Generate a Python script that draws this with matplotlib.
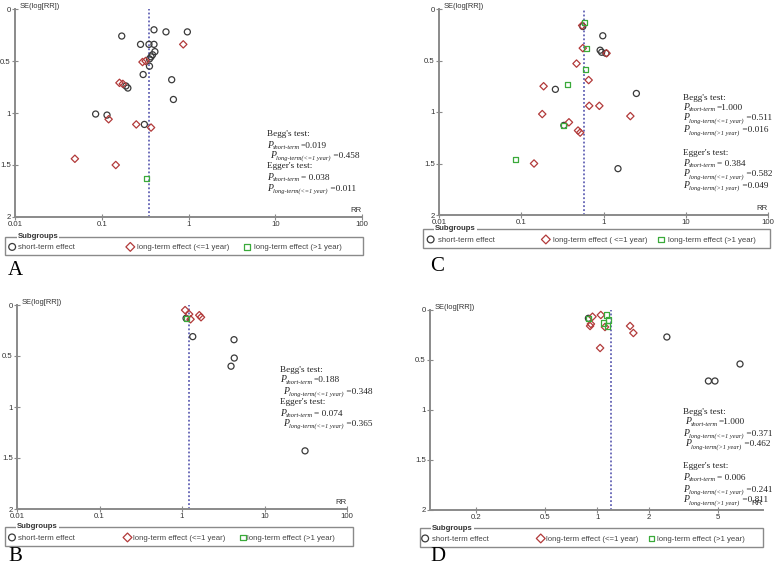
import numpy as np
import matplotlib
matplotlib.use('Agg')
import matplotlib.pyplot as plt
from matplotlib.patches import Rectangle

plt.rcParams['font.family'] = ['Liberation Sans', 'DejaVu Sans']

W, H = 778, 567

# ---------------- data ----------------
# Panel A
a_short_rr = [0.40, 0.55, 0.97, 0.17, 0.28, 0.35, 0.40, 0.41, 0.385, 0.37, 0.355, 0.355,
              0.30, 0.64, 0.19, 0.20, 0.67, 0.085, 0.115, 0.31]
a_short_se = [0.20, 0.22, 0.22, 0.26, 0.34, 0.34, 0.34, 0.41, 0.44, 0.46, 0.48, 0.55,
              0.63, 0.68, 0.74, 0.76, 0.87, 1.01, 1.02, 1.11]
a_le1_rr = [0.87, 0.32, 0.295, 0.16, 0.175, 0.12, 0.25, 0.37, 0.049, 0.145]
a_le1_se = [0.34, 0.50, 0.51, 0.71, 0.72, 1.06, 1.11, 1.14, 1.44, 1.50]
a_gt1_rr = [0.33]
a_gt1_se = [1.63]
a_pooled = 0.35

# Panel C
c_short_rr = [0.56, 0.98, 0.91, 0.95, 1.07, 0.26, 2.51, 0.33, 1.50]
c_short_se = [0.17, 0.26, 0.40, 0.42, 0.43, 0.78, 0.82, 1.13, 1.55]
c_le1_rr = [0.55, 0.56, 1.09, 0.47, 0.66, 0.187, 0.67, 0.89, 0.18, 2.12, 0.38, 0.49, 0.52, 0.143]
c_le1_se = [0.16, 0.38, 0.43, 0.53, 0.69, 0.75, 0.94, 0.94, 1.02, 1.04, 1.10, 1.18, 1.20, 1.50]
c_gt1_rr = [0.58, 0.62, 0.61, 0.363, 0.33, 0.086]
c_gt1_se = [0.13, 0.38, 0.59, 0.73, 1.13, 1.46]
c_pooled = 0.58

# Panel B
b_short_rr = [1.12, 1.35, 4.27, 4.3, 3.93, 31.0]
b_short_se = [0.13, 0.31, 0.34, 0.52, 0.60, 1.43]
b_le1_rr = [1.09, 1.22, 1.27, 1.62, 1.70]
b_le1_se = [0.05, 0.09, 0.14, 0.10, 0.12]
b_gt1_rr = [1.12]
b_gt1_se = [0.13]
b_pooled = 1.22

# Panel D
d_short_rr = [0.89, 2.53, 6.7, 4.4, 4.8]
d_short_se = [0.083, 0.27, 0.54, 0.71, 0.71]
d_le1_rr = [0.94, 0.92, 0.91, 1.05, 1.11, 1.55, 1.62, 1.04]
d_le1_se = [0.067, 0.14, 0.16, 0.05, 0.17, 0.16, 0.23, 0.38]
d_gt1_rr = [0.89, 1.14, 1.16, 1.09, 1.15]
d_gt1_se = [0.083, 0.05, 0.10, 0.13, 0.16]
d_pooled = 1.2

abc_xticks = [0.01, 0.1, 1, 10, 100]
abc_xticklabels = ['0.01', '0.1', '1', '10', '100']
d_xticks = [0.2, 0.5, 1, 2, 5]
d_xticklabels = ['0.2', '0.5', '1', '2', '5']
yticks = [0, 0.5, 1, 1.5, 2]
yticklabels = ['0', '0.5', '1', '1.5', '2']

series_labels = ['short-term effect', 'long-term effect (<=1 year)', 'long-term effect (>1 year)']
series_labels_c = ['short-term effect', 'long-term effect ( <=1 year)', 'long-term effect (>1 year)']

C_CIRC = '#3a3a3a'
C_DIAM = '#b23a3a'
C_SQ = '#3aaa3a'
SPINE = '#8a8a8a'
DASH = '#4848a8'

fig = plt.figure(figsize=(W / 100, H / 100), dpi=100)
renderer = fig.canvas.get_renderer()


def px_axes(x0, y0, x1, y1):
    return fig.add_axes([x0 / W, 1 - y1 / H, (x1 - x0) / W, (y1 - y0) / H])


def panel(box, short, le1, gt1, pooled, xlim, xt, xtl):
    ax = px_axes(*box)
    ax.set_xscale('log')
    ax.scatter(short[0], short[1], marker='o', s=19, facecolors='none',
               edgecolors=C_CIRC, linewidths=0.9, clip_on=False, zorder=3)
    ax.scatter(le1[0], le1[1], marker='D', s=14, facecolors='none',
               edgecolors=C_DIAM, linewidths=0.9, clip_on=False, zorder=3)
    ax.scatter(gt1[0], gt1[1], marker='s', s=13, facecolors='none',
               edgecolors=C_SQ, linewidths=0.9, clip_on=False, zorder=3)
    ax.axvline(pooled, color=DASH, ls=(0, (1.2, 1.4)), lw=1.1, zorder=2)
    ax.set_xlim(*xlim)
    ax.set_ylim(2, 0)
    ax.set_xticks(xt)
    ax.set_xticklabels(xtl)
    ax.minorticks_off()
    ax.set_yticks(yticks)
    ax.set_yticklabels(yticklabels)
    for s in ['top', 'right']:
        ax.spines[s].set_visible(False)
    for s in ['left', 'bottom']:
        ax.spines[s].set_color(SPINE)
        ax.spines[s].set_linewidth(1.4)
    ax.tick_params(direction='inout', length=4, width=0.8, color=SPINE,
                   labelsize=5.6, labelcolor='#333333', pad=1)
    ax.patch.set_alpha(0)
    ax.annotate('SE(log[RR])', xy=(0, 1), xycoords='axes fraction', xytext=(3, 2),
                textcoords='offset points', ha='left', va='center', fontsize=5.4, color='#333333')
    ax.annotate('RR', xy=(1, 0), xycoords='axes fraction', xytext=(-4, 4.5),
                textcoords='offset points', ha='center', va='center', fontsize=5.6, color='#333333')
    return ax


def legend_box(box, labels, pos):
    lax = px_axes(*box)
    lax.set_xlim(0, 1)
    lax.set_ylim(0, 1)
    lax.axis('off')
    lax.add_patch(Rectangle((0, 0), 1, 1, transform=lax.transAxes, fill=False,
                            ec=SPINE, lw=1.0, clip_on=False))
    lax.text(0.035, 1.0, 'Subgroups', ha='left', va='center', fontsize=5.6, fontweight='bold',
             color='#333333', bbox=dict(fc='white', ec='none', pad=0.6))
    mk = [('o', C_CIRC, 24), ('D', C_DIAM, 20), ('s', C_SQ, 18)]
    for (m, c, s), (mx, tx), lab in zip(mk, pos, labels):
        lax.scatter([mx], [0.45], marker=m, s=s, facecolors='none', edgecolors=c,
                    linewidths=0.9, clip_on=False)
        lax.text(tx, 0.42, lab, ha='left', va='center', fontsize=5.6, color='#444444')


SERIF = 'Liberation Serif'
TCOL = '#222222'


def ptext(x, y, sub, val):
    yb = 1 - (y + 2.5) / H
    t1 = fig.text(x / W, yb, 'P', style='italic', fontsize=7.0, family=SERIF,
                  va='baseline', ha='left', color=TCOL)
    bb = t1.get_window_extent(renderer)
    t2 = fig.text((bb.x1 + 0.3) / W, yb - 1.8 / H, sub, style='italic', fontsize=4.6,
                  family=SERIF, va='baseline', ha='left', color=TCOL)
    bb2 = t2.get_window_extent(renderer)
    fig.text((bb2.x1 + 0.3) / W, yb, val, fontsize=6.7, family=SERIF,
             va='baseline', ha='left', color=TCOL)


def stats(x, lines):
    for item in lines:
        if len(item) == 3:
            dx, y, s = item
            fig.text((x + dx) / W, 1 - (y + 2.5) / H, s, ha='left', va='baseline',
                     fontsize=6.7, family=SERIF, color=TCOL)
        else:
            dx, y, sub, val = item
            ptext(x + dx, y, sub, val)


SHORT = 'short-term'
LE1 = 'long-term(<=1 year)'
GT1 = 'long-term(>1 year)'


def plabel(x, y, s):
    fig.text(x / W, 1 - y / H, s, fontsize=15, family=SERIF, va='bottom', ha='left')


# Panel A
panel((15, 9, 362, 217), (a_short_rr, a_short_se), (a_le1_rr, a_le1_se),
      (a_gt1_rr, a_gt1_se), a_pooled, (0.01, 100), abc_xticks, abc_xticklabels)
legend_box((5, 237, 363, 255), series_labels, [(0.02, 0.037), (0.35, 0.368), (0.676, 0.695)])
stats(267, [(0, 133, "Begg's test:"), (0, 145, SHORT, '=0.019'), (3, 155, LE1, ' =0.458'),
            (0, 166, "Egger's test:"), (0, 177, SHORT, '= 0.038'), (0, 188, LE1, ' =0.011')])
plabel(8, 280, 'A')

# Panel C
panel((439, 9, 768, 215), (c_short_rr, c_short_se), (c_le1_rr, c_le1_se),
      (c_gt1_rr, c_gt1_se), c_pooled, (0.01, 100), abc_xticks, abc_xticklabels)
legend_box((423, 229, 770, 248), series_labels_c, [(0.022, 0.043), (0.354, 0.374), (0.686, 0.706)])
stats(683, [(0, 97, "Begg's test:"), (0, 107, SHORT, '=1.000'), (0, 118, LE1, ' =0.511'),
            (0, 130, GT1, ' =0.016'), (0, 152, "Egger's test:"), (0, 163, SHORT, '= 0.384'),
            (0, 174, LE1, ' =0.582'), (0, 185, GT1, ' =0.049')])
plabel(430, 276, 'C')

# Panel B
panel((17, 305, 347, 509), (b_short_rr, b_short_se), (b_le1_rr, b_le1_se),
      (b_gt1_rr, b_gt1_se), b_pooled, (0.01, 100), abc_xticks, abc_xticklabels)
legend_box((5, 527, 353, 546), series_labels, [(0.02, 0.038), (0.352, 0.368), (0.683, 0.695)])
stats(280, [(0, 369, "Begg's test:"), (0, 380, SHORT, '=0.188'), (3, 391, LE1, ' =0.348'),
            (0, 402, "Egger's test:"), (0, 413, SHORT, '= 0.074'), (3, 423, LE1, ' =0.365')])
plabel(8, 566, 'B')

# Panel D
panel((430, 310, 763, 510), (d_short_rr, d_short_se), (d_le1_rr, d_le1_se),
      (d_gt1_rr, d_gt1_se), d_pooled, (0.108, 9.1), d_xticks, d_xticklabels)
legend_box((420, 528, 763, 547), series_labels, [(0.015, 0.034), (0.352, 0.367), (0.675, 0.69)])
stats(683, [(0, 411, "Begg's test:"), (2, 422, SHORT, '=1.000'), (0, 433, LE1, ' =0.371'),
            (2, 444, GT1, ' =0.462'), (0, 466, "Egger's test:"), (0, 477, SHORT, '= 0.006'),
            (0, 489, LE1, ' =0.241'), (0, 500, GT1, ' =0.811')])
plabel(430, 566, 'D')

fig.savefig('out.png', dpi=100)
